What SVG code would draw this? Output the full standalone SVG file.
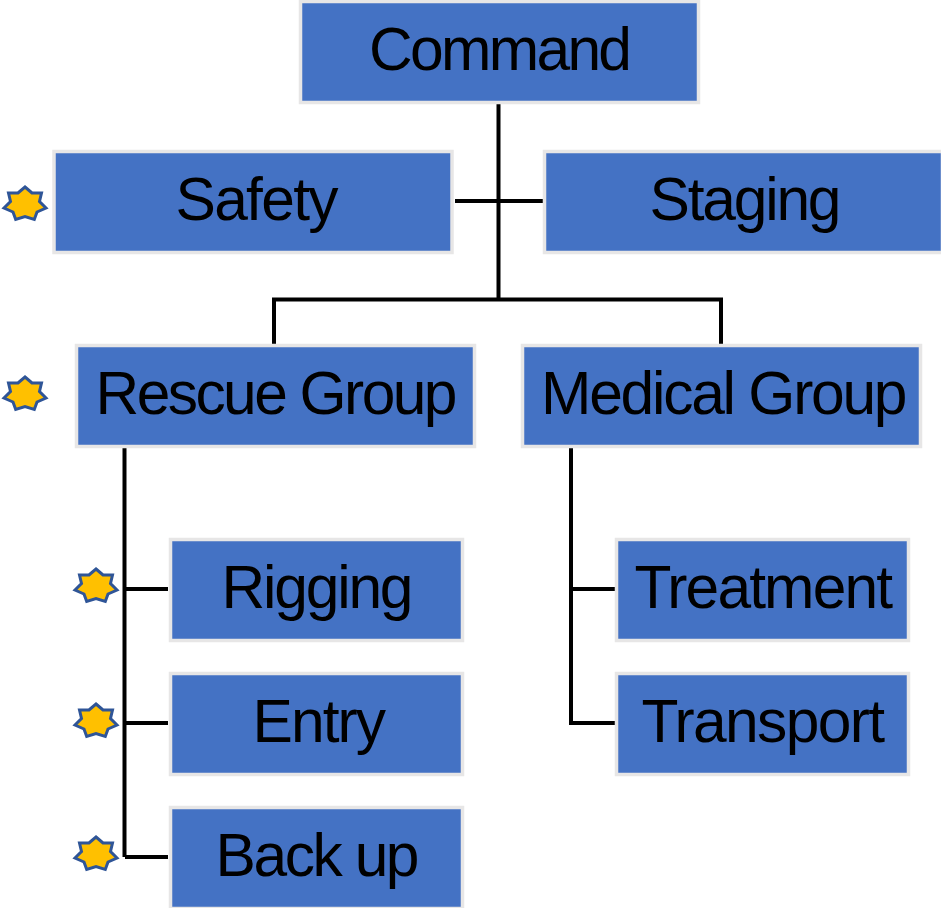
<svg xmlns="http://www.w3.org/2000/svg" width="941" height="908" viewBox="0 0 941 908">
<style>
.b{fill:#4472c4;stroke:#e7e6e6;stroke-width:3.500}
.t{font-family:"Liberation Sans",Arial,sans-serif;font-size:60.500px;fill:#000;text-anchor:start}
.c{fill:none;stroke:#000;stroke-width:4}
.s{fill:#ffc000;stroke:#2f5597;stroke-width:3}
</style>
<defs><polygon id="star" points="0,-17 7,-11 16.500,-11 14.500,-2.500 21,4 12,8 9.300,15.500 0,12.500 -9.300,15.500 -12,8 -21,4 -14.500,-2.500 -16.500,-11 -7,-11"/></defs>
<rect width="941" height="908" fill="#fff"/>
<g id="connectors">
<path class="c" d="M498.500 104V299.500M455 201H543M274 344V299.500H721V344"/>
<path class="c" d="M124.500 448V857M125 589H168M125 723H168M125 857H168"/>
<path class="c" d="M571 448V723H615M571 589H615"/>
</g>
<g id="command"><rect class="b" x="300.500" y="1.500" width="398" height="101"/><text class="t" x="369" y="70" textLength="263" lengthAdjust="spacing">Command</text></g>
<g id="safety"><rect class="b" x="54" y="151.500" width="398" height="101"/><text class="t" x="175.500" y="220" textLength="163" lengthAdjust="spacing">Safety</text></g>
<g id="staging"><rect class="b" x="544.500" y="151.500" width="398" height="101"/><text class="t" x="649.500" y="220" textLength="192" lengthAdjust="spacing">Staging</text></g>
<g id="rescue"><rect class="b" x="76.500" y="345.500" width="398" height="101"/><text class="t" x="95.500" y="414" textLength="362" lengthAdjust="spacing">Rescue Group</text></g>
<g id="medical"><rect class="b" x="522.500" y="345.500" width="398" height="101"/><text class="t" x="541" y="414" textLength="366.500" lengthAdjust="spacing">Medical Group</text></g>
<g id="rigging"><rect class="b" x="170.500" y="539.500" width="292" height="101"/><text class="t" x="221.500" y="608" textLength="192" lengthAdjust="spacing">Rigging</text></g>
<g id="entry"><rect class="b" x="170.500" y="673.500" width="292" height="101"/><text class="t" x="252.500" y="742" textLength="133.500" lengthAdjust="spacing">Entry</text></g>
<g id="backup"><rect class="b" x="170.500" y="807.500" width="292" height="101"/><text class="t" x="215.500" y="876" textLength="204" lengthAdjust="spacing">Back up</text></g>
<g id="treatment"><rect class="b" x="616.500" y="539.500" width="292" height="101"/><text class="t" x="634.500" y="608" textLength="258.500" lengthAdjust="spacing">Treatment</text></g>
<g id="transport"><rect class="b" x="616.500" y="673.500" width="292" height="101"/><text class="t" x="641.500" y="742" textLength="243.500" lengthAdjust="spacing">Transport</text></g>
<g id="star-safety"><use class="s" href="#star" x="25" y="204"/></g>
<g id="star-rescue"><use class="s" href="#star" x="25" y="394"/></g>
<g id="star-rigging"><use class="s" href="#star" x="96" y="586"/></g>
<g id="star-entry"><use class="s" href="#star" x="96" y="721"/></g>
<g id="star-backup"><use class="s" href="#star" x="96" y="854"/></g>
</svg>
